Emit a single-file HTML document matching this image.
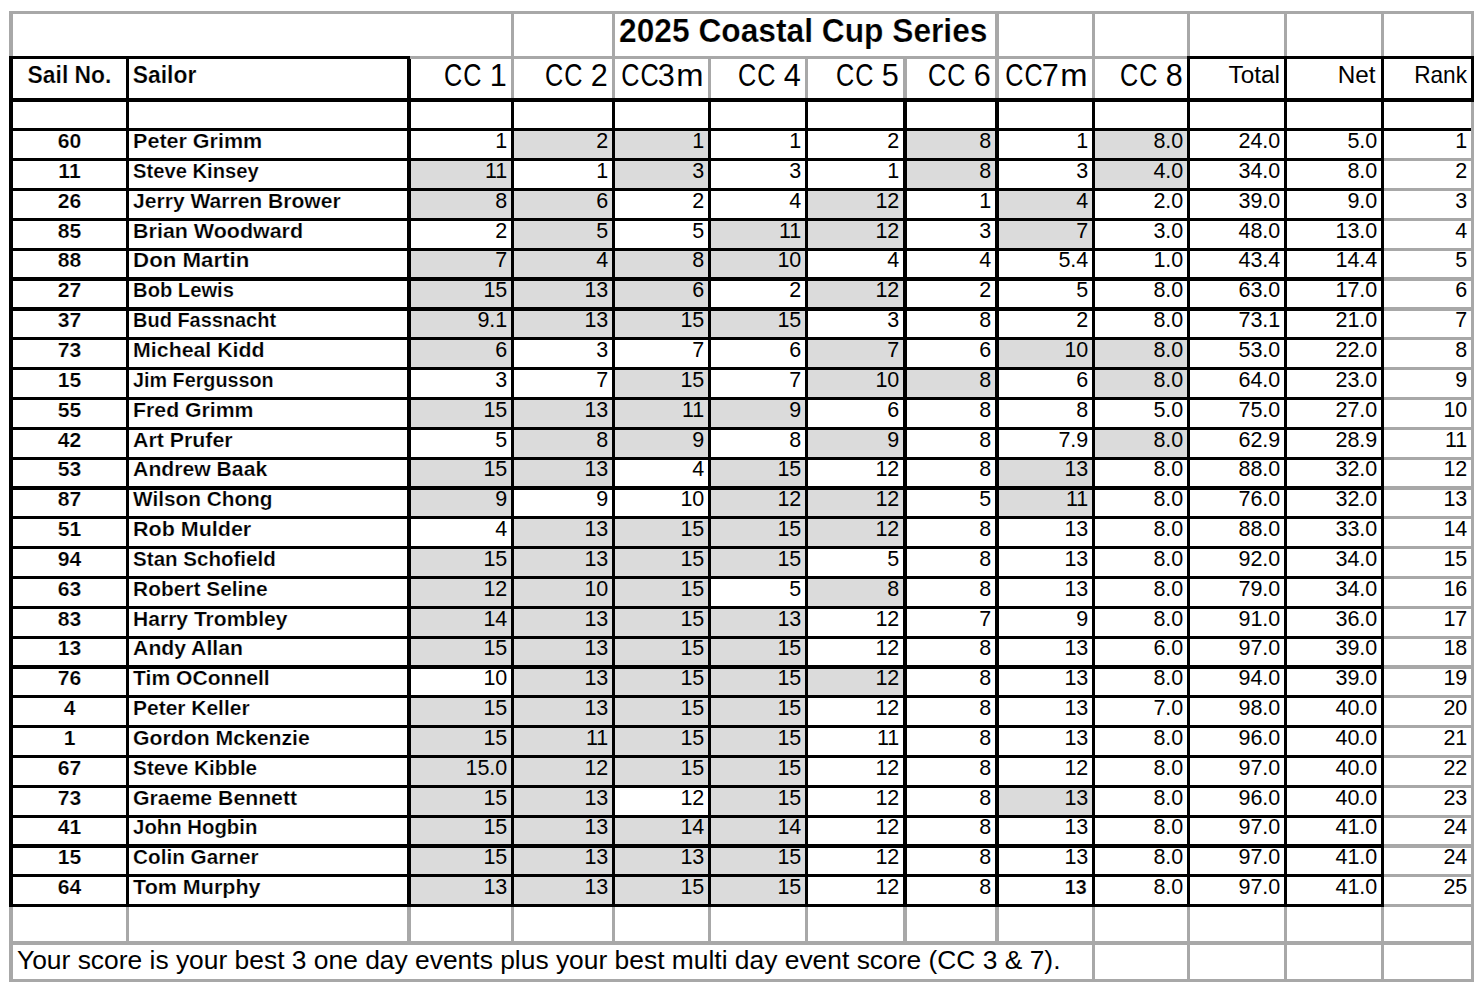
<!DOCTYPE html>
<html lang="en">
<head>
<meta charset="utf-8">
<title>2025 Coastal Cup Series</title>
<style>
html,body{margin:0;padding:0;background:#fff;}
body{width:1483px;height:993px;position:relative;overflow:hidden;}
svg{position:absolute;left:0;top:0;display:block;}
text{font-family:"Liberation Sans",sans-serif;font-weight:400;fill:#000;white-space:pre;}
text.b{font-weight:700;stroke:#fff;stroke-width:0.22px;}
</style>
</head>
<body>
<svg width="1483" height="993" viewBox="0 0 1483 993">
<g shape-rendering="crispEdges">
<rect x="511" y="128" width="104" height="33" fill="#dbdbdb"/>
<rect x="612" y="128" width="99" height="33" fill="#dbdbdb"/>
<rect x="903" y="128" width="96" height="33" fill="#dbdbdb"/>
<rect x="1092" y="128" width="98" height="33" fill="#dbdbdb"/>
<rect x="407" y="158" width="107" height="33" fill="#dbdbdb"/>
<rect x="612" y="158" width="99" height="33" fill="#dbdbdb"/>
<rect x="903" y="158" width="96" height="33" fill="#dbdbdb"/>
<rect x="1092" y="158" width="98" height="33" fill="#dbdbdb"/>
<rect x="407" y="188" width="107" height="33" fill="#dbdbdb"/>
<rect x="511" y="188" width="104" height="33" fill="#dbdbdb"/>
<rect x="805" y="188" width="102" height="33" fill="#dbdbdb"/>
<rect x="995" y="188" width="100" height="33" fill="#dbdbdb"/>
<rect x="511" y="218" width="104" height="33" fill="#dbdbdb"/>
<rect x="708" y="218" width="100" height="33" fill="#dbdbdb"/>
<rect x="805" y="218" width="102" height="33" fill="#dbdbdb"/>
<rect x="995" y="218" width="100" height="33" fill="#dbdbdb"/>
<rect x="407" y="248" width="107" height="33" fill="#dbdbdb"/>
<rect x="511" y="248" width="104" height="33" fill="#dbdbdb"/>
<rect x="612" y="248" width="99" height="33" fill="#dbdbdb"/>
<rect x="708" y="248" width="100" height="33" fill="#dbdbdb"/>
<rect x="407" y="277" width="107" height="34" fill="#dbdbdb"/>
<rect x="511" y="277" width="104" height="34" fill="#dbdbdb"/>
<rect x="612" y="277" width="99" height="34" fill="#dbdbdb"/>
<rect x="805" y="277" width="102" height="34" fill="#dbdbdb"/>
<rect x="407" y="307" width="107" height="33" fill="#dbdbdb"/>
<rect x="511" y="307" width="104" height="33" fill="#dbdbdb"/>
<rect x="612" y="307" width="99" height="33" fill="#dbdbdb"/>
<rect x="708" y="307" width="100" height="33" fill="#dbdbdb"/>
<rect x="407" y="337" width="107" height="33" fill="#dbdbdb"/>
<rect x="805" y="337" width="102" height="33" fill="#dbdbdb"/>
<rect x="995" y="337" width="100" height="33" fill="#dbdbdb"/>
<rect x="1092" y="337" width="98" height="33" fill="#dbdbdb"/>
<rect x="612" y="367" width="99" height="33" fill="#dbdbdb"/>
<rect x="805" y="367" width="102" height="33" fill="#dbdbdb"/>
<rect x="903" y="367" width="96" height="33" fill="#dbdbdb"/>
<rect x="1092" y="367" width="98" height="33" fill="#dbdbdb"/>
<rect x="407" y="397" width="107" height="33" fill="#dbdbdb"/>
<rect x="511" y="397" width="104" height="33" fill="#dbdbdb"/>
<rect x="612" y="397" width="99" height="33" fill="#dbdbdb"/>
<rect x="708" y="397" width="100" height="33" fill="#dbdbdb"/>
<rect x="511" y="427" width="104" height="33" fill="#dbdbdb"/>
<rect x="612" y="427" width="99" height="33" fill="#dbdbdb"/>
<rect x="805" y="427" width="102" height="33" fill="#dbdbdb"/>
<rect x="1092" y="427" width="98" height="33" fill="#dbdbdb"/>
<rect x="407" y="457" width="107" height="33" fill="#dbdbdb"/>
<rect x="511" y="457" width="104" height="33" fill="#dbdbdb"/>
<rect x="708" y="457" width="100" height="33" fill="#dbdbdb"/>
<rect x="995" y="457" width="100" height="33" fill="#dbdbdb"/>
<rect x="407" y="486" width="107" height="33" fill="#dbdbdb"/>
<rect x="708" y="486" width="100" height="33" fill="#dbdbdb"/>
<rect x="805" y="486" width="102" height="33" fill="#dbdbdb"/>
<rect x="995" y="486" width="100" height="33" fill="#dbdbdb"/>
<rect x="511" y="516" width="104" height="33" fill="#dbdbdb"/>
<rect x="612" y="516" width="99" height="33" fill="#dbdbdb"/>
<rect x="708" y="516" width="100" height="33" fill="#dbdbdb"/>
<rect x="805" y="516" width="102" height="33" fill="#dbdbdb"/>
<rect x="407" y="546" width="107" height="33" fill="#dbdbdb"/>
<rect x="511" y="546" width="104" height="33" fill="#dbdbdb"/>
<rect x="612" y="546" width="99" height="33" fill="#dbdbdb"/>
<rect x="708" y="546" width="100" height="33" fill="#dbdbdb"/>
<rect x="407" y="576" width="107" height="33" fill="#dbdbdb"/>
<rect x="511" y="576" width="104" height="33" fill="#dbdbdb"/>
<rect x="612" y="576" width="99" height="33" fill="#dbdbdb"/>
<rect x="805" y="576" width="102" height="33" fill="#dbdbdb"/>
<rect x="407" y="606" width="107" height="33" fill="#dbdbdb"/>
<rect x="511" y="606" width="104" height="33" fill="#dbdbdb"/>
<rect x="612" y="606" width="99" height="33" fill="#dbdbdb"/>
<rect x="708" y="606" width="100" height="33" fill="#dbdbdb"/>
<rect x="407" y="636" width="107" height="33" fill="#dbdbdb"/>
<rect x="511" y="636" width="104" height="33" fill="#dbdbdb"/>
<rect x="612" y="636" width="99" height="33" fill="#dbdbdb"/>
<rect x="708" y="636" width="100" height="33" fill="#dbdbdb"/>
<rect x="511" y="665" width="104" height="33" fill="#dbdbdb"/>
<rect x="612" y="665" width="99" height="33" fill="#dbdbdb"/>
<rect x="708" y="665" width="100" height="33" fill="#dbdbdb"/>
<rect x="805" y="665" width="102" height="33" fill="#dbdbdb"/>
<rect x="407" y="695" width="107" height="33" fill="#dbdbdb"/>
<rect x="511" y="695" width="104" height="33" fill="#dbdbdb"/>
<rect x="612" y="695" width="99" height="33" fill="#dbdbdb"/>
<rect x="708" y="695" width="100" height="33" fill="#dbdbdb"/>
<rect x="407" y="725" width="107" height="33" fill="#dbdbdb"/>
<rect x="511" y="725" width="104" height="33" fill="#dbdbdb"/>
<rect x="612" y="725" width="99" height="33" fill="#dbdbdb"/>
<rect x="708" y="725" width="100" height="33" fill="#dbdbdb"/>
<rect x="407" y="755" width="107" height="33" fill="#dbdbdb"/>
<rect x="511" y="755" width="104" height="33" fill="#dbdbdb"/>
<rect x="612" y="755" width="99" height="33" fill="#dbdbdb"/>
<rect x="708" y="755" width="100" height="33" fill="#dbdbdb"/>
<rect x="407" y="785" width="107" height="33" fill="#dbdbdb"/>
<rect x="511" y="785" width="104" height="33" fill="#dbdbdb"/>
<rect x="708" y="785" width="100" height="33" fill="#dbdbdb"/>
<rect x="995" y="785" width="100" height="33" fill="#dbdbdb"/>
<rect x="407" y="815" width="107" height="33" fill="#dbdbdb"/>
<rect x="511" y="815" width="104" height="33" fill="#dbdbdb"/>
<rect x="612" y="815" width="99" height="33" fill="#dbdbdb"/>
<rect x="708" y="815" width="100" height="33" fill="#dbdbdb"/>
<rect x="407" y="844" width="107" height="33" fill="#dbdbdb"/>
<rect x="511" y="844" width="104" height="33" fill="#dbdbdb"/>
<rect x="612" y="844" width="99" height="33" fill="#dbdbdb"/>
<rect x="708" y="844" width="100" height="33" fill="#dbdbdb"/>
<rect x="407" y="874" width="107" height="33" fill="#dbdbdb"/>
<rect x="511" y="874" width="104" height="33" fill="#dbdbdb"/>
<rect x="612" y="874" width="99" height="33" fill="#dbdbdb"/>
<rect x="708" y="874" width="100" height="33" fill="#dbdbdb"/>
<rect x="9" y="11" width="1465" height="3" fill="#a8a8a8"/>
<rect x="9" y="979" width="1465" height="3" fill="#a8a8a8"/>
<rect x="9" y="11" width="4" height="971" fill="#a8a8a8"/>
<rect x="1471" y="11" width="3" height="971" fill="#a8a8a8"/>
<rect x="511" y="11" width="3" height="48" fill="#a8a8a8"/>
<rect x="612" y="11" width="3" height="48" fill="#a8a8a8"/>
<rect x="995" y="11" width="4" height="48" fill="#a8a8a8"/>
<rect x="1092" y="11" width="3" height="48" fill="#a8a8a8"/>
<rect x="1187" y="11" width="3" height="48" fill="#a8a8a8"/>
<rect x="1284" y="11" width="3" height="48" fill="#a8a8a8"/>
<rect x="1381" y="11" width="3" height="48" fill="#a8a8a8"/>
<rect x="9" y="56" width="1465" height="3" fill="#a8a8a8"/>
<rect x="511" y="56" width="3" height="42" fill="#a8a8a8"/>
<rect x="612" y="56" width="3" height="42" fill="#a8a8a8"/>
<rect x="708" y="56" width="3" height="42" fill="#a8a8a8"/>
<rect x="805" y="56" width="3" height="42" fill="#a8a8a8"/>
<rect x="903" y="56" width="4" height="42" fill="#a8a8a8"/>
<rect x="995" y="56" width="4" height="42" fill="#a8a8a8"/>
<rect x="1092" y="56" width="3" height="42" fill="#a8a8a8"/>
<rect x="1381" y="158" width="93" height="3" fill="#a8a8a8"/>
<rect x="1381" y="188" width="93" height="3" fill="#a8a8a8"/>
<rect x="1381" y="218" width="93" height="3" fill="#a8a8a8"/>
<rect x="1381" y="248" width="93" height="3" fill="#a8a8a8"/>
<rect x="1381" y="277" width="93" height="4" fill="#a8a8a8"/>
<rect x="1381" y="307" width="93" height="4" fill="#a8a8a8"/>
<rect x="1381" y="337" width="93" height="3" fill="#a8a8a8"/>
<rect x="1381" y="367" width="93" height="3" fill="#a8a8a8"/>
<rect x="1381" y="397" width="93" height="3" fill="#a8a8a8"/>
<rect x="1381" y="427" width="93" height="3" fill="#a8a8a8"/>
<rect x="1381" y="457" width="93" height="3" fill="#a8a8a8"/>
<rect x="1381" y="486" width="93" height="4" fill="#a8a8a8"/>
<rect x="1381" y="516" width="93" height="3" fill="#a8a8a8"/>
<rect x="1381" y="546" width="93" height="3" fill="#a8a8a8"/>
<rect x="1381" y="576" width="93" height="3" fill="#a8a8a8"/>
<rect x="1381" y="606" width="93" height="3" fill="#a8a8a8"/>
<rect x="1381" y="636" width="93" height="3" fill="#a8a8a8"/>
<rect x="1381" y="665" width="93" height="4" fill="#a8a8a8"/>
<rect x="1381" y="695" width="93" height="3" fill="#a8a8a8"/>
<rect x="1381" y="725" width="93" height="3" fill="#a8a8a8"/>
<rect x="1381" y="755" width="93" height="3" fill="#a8a8a8"/>
<rect x="1381" y="785" width="93" height="3" fill="#a8a8a8"/>
<rect x="1381" y="815" width="93" height="3" fill="#a8a8a8"/>
<rect x="1381" y="844" width="93" height="4" fill="#a8a8a8"/>
<rect x="1381" y="874" width="93" height="3" fill="#a8a8a8"/>
<rect x="1381" y="904" width="93" height="3" fill="#a8a8a8"/>
<rect x="9" y="941" width="1465" height="4" fill="#a8a8a8"/>
<rect x="126" y="904" width="3" height="41" fill="#a8a8a8"/>
<rect x="407" y="904" width="4" height="41" fill="#a8a8a8"/>
<rect x="511" y="904" width="3" height="41" fill="#a8a8a8"/>
<rect x="612" y="904" width="3" height="41" fill="#a8a8a8"/>
<rect x="708" y="904" width="3" height="41" fill="#a8a8a8"/>
<rect x="805" y="904" width="3" height="41" fill="#a8a8a8"/>
<rect x="903" y="904" width="4" height="41" fill="#a8a8a8"/>
<rect x="995" y="904" width="4" height="41" fill="#a8a8a8"/>
<rect x="1092" y="904" width="3" height="41" fill="#a8a8a8"/>
<rect x="1187" y="904" width="3" height="41" fill="#a8a8a8"/>
<rect x="1284" y="904" width="3" height="41" fill="#a8a8a8"/>
<rect x="1381" y="904" width="3" height="41" fill="#a8a8a8"/>
<rect x="1092" y="941" width="3" height="41" fill="#a8a8a8"/>
<rect x="1187" y="941" width="3" height="41" fill="#a8a8a8"/>
<rect x="1284" y="941" width="3" height="41" fill="#a8a8a8"/>
<rect x="1381" y="941" width="3" height="41" fill="#a8a8a8"/>
<rect x="9" y="56" width="401" height="3" fill="#000"/>
<rect x="1187" y="56" width="287" height="3" fill="#000"/>
<rect x="9" y="98" width="1465" height="4" fill="#000"/>
<rect x="9" y="128" width="1462" height="3" fill="#000"/>
<rect x="9" y="158" width="1375" height="3" fill="#000"/>
<rect x="9" y="188" width="1375" height="3" fill="#000"/>
<rect x="9" y="218" width="1375" height="3" fill="#000"/>
<rect x="9" y="248" width="1375" height="3" fill="#000"/>
<rect x="9" y="277" width="1375" height="4" fill="#000"/>
<rect x="9" y="307" width="1375" height="4" fill="#000"/>
<rect x="9" y="337" width="1375" height="3" fill="#000"/>
<rect x="9" y="367" width="1375" height="3" fill="#000"/>
<rect x="9" y="397" width="1375" height="3" fill="#000"/>
<rect x="9" y="427" width="1375" height="3" fill="#000"/>
<rect x="9" y="457" width="1375" height="3" fill="#000"/>
<rect x="9" y="486" width="1375" height="4" fill="#000"/>
<rect x="9" y="516" width="1375" height="3" fill="#000"/>
<rect x="9" y="546" width="1375" height="3" fill="#000"/>
<rect x="9" y="576" width="1375" height="3" fill="#000"/>
<rect x="9" y="606" width="1375" height="3" fill="#000"/>
<rect x="9" y="636" width="1375" height="3" fill="#000"/>
<rect x="9" y="665" width="1375" height="4" fill="#000"/>
<rect x="9" y="695" width="1375" height="3" fill="#000"/>
<rect x="9" y="725" width="1375" height="3" fill="#000"/>
<rect x="9" y="755" width="1375" height="3" fill="#000"/>
<rect x="9" y="785" width="1375" height="3" fill="#000"/>
<rect x="9" y="815" width="1375" height="3" fill="#000"/>
<rect x="9" y="844" width="1375" height="4" fill="#000"/>
<rect x="9" y="874" width="1375" height="3" fill="#000"/>
<rect x="9" y="904" width="1375" height="3" fill="#000"/>
<rect x="9" y="56" width="4" height="851" fill="#000"/>
<rect x="126" y="56" width="3" height="851" fill="#000"/>
<rect x="407" y="59" width="4" height="848" fill="#000"/>
<rect x="407" y="56" width="3" height="3" fill="#000"/>
<rect x="511" y="98" width="3" height="809" fill="#000"/>
<rect x="612" y="98" width="3" height="809" fill="#000"/>
<rect x="708" y="98" width="3" height="809" fill="#000"/>
<rect x="805" y="98" width="3" height="809" fill="#000"/>
<rect x="903" y="98" width="4" height="809" fill="#000"/>
<rect x="995" y="98" width="4" height="809" fill="#000"/>
<rect x="1092" y="98" width="3" height="809" fill="#000"/>
<rect x="1187" y="56" width="3" height="851" fill="#000"/>
<rect x="1284" y="56" width="3" height="851" fill="#000"/>
<rect x="1381" y="56" width="3" height="851" fill="#000"/>
<rect x="1471" y="56" width="3" height="46" fill="#000"/>
</g>
<g>
<text class="b" transform="translate(803.25 41.60) scale(0.982 1)" font-size="32.3" text-anchor="middle">2025 Coastal Cup Series</text>
<text class="b" transform="translate(69.50 82.75) scale(0.994 1)" font-size="23.0" text-anchor="middle">Sail No.</text>
<text class="b" transform="translate(132.80 82.75) scale(0.994 1)" font-size="23.0" text-anchor="start">Sailor</text>
<text transform="translate(482.50 85.70) scale(0.825 1)" font-size="30.6" text-anchor="end" style="letter-spacing:1.18px;">CC</text>
<text transform="translate(506.65 85.70) scale(1.0 1)" font-size="30.6" text-anchor="end">1</text>
<text transform="translate(583.50 85.70) scale(0.825 1)" font-size="30.6" text-anchor="end" style="letter-spacing:1.18px;">CC</text>
<text transform="translate(607.65 85.70) scale(1.0 1)" font-size="30.6" text-anchor="end">2</text>
<text transform="translate(659.60 85.70) scale(0.825 1)" font-size="30.6" text-anchor="end" style="letter-spacing:1.18px;">CC</text>
<text transform="translate(674.80 85.70) scale(1.0 1)" font-size="30.6" text-anchor="end">3</text>
<text transform="translate(703.60 85.70) scale(1.07 1)" font-size="30.6" text-anchor="end">m</text>
<text transform="translate(776.50 85.70) scale(0.825 1)" font-size="30.6" text-anchor="end" style="letter-spacing:1.18px;">CC</text>
<text transform="translate(800.65 85.70) scale(1.0 1)" font-size="30.6" text-anchor="end">4</text>
<text transform="translate(874.50 85.70) scale(0.825 1)" font-size="30.6" text-anchor="end" style="letter-spacing:1.18px;">CC</text>
<text transform="translate(898.65 85.70) scale(1.0 1)" font-size="30.6" text-anchor="end">5</text>
<text transform="translate(966.50 85.70) scale(0.825 1)" font-size="30.6" text-anchor="end" style="letter-spacing:1.18px;">CC</text>
<text transform="translate(990.65 85.70) scale(1.0 1)" font-size="30.6" text-anchor="end">6</text>
<text transform="translate(1043.60 85.70) scale(0.825 1)" font-size="30.6" text-anchor="end" style="letter-spacing:1.18px;">CC</text>
<text transform="translate(1058.80 85.70) scale(1.0 1)" font-size="30.6" text-anchor="end">7</text>
<text transform="translate(1087.60 85.70) scale(1.07 1)" font-size="30.6" text-anchor="end">m</text>
<text transform="translate(1158.50 85.70) scale(0.825 1)" font-size="30.6" text-anchor="end" style="letter-spacing:1.18px;">CC</text>
<text transform="translate(1182.65 85.70) scale(1.0 1)" font-size="30.6" text-anchor="end">8</text>
<text transform="translate(1280.00 82.50) scale(1.06 1)" font-size="23.0" text-anchor="end">Total</text>
<text transform="translate(1375.60 82.50) scale(1.056 1)" font-size="23.0" text-anchor="end">Net</text>
<text transform="translate(1467.00 82.50) scale(0.985 1)" font-size="23.0" text-anchor="end">Rank</text>
<text class="b" transform="translate(69.50 147.60) scale(1.005 1)" font-size="21.0" text-anchor="middle">60</text>
<text class="b" transform="translate(133.10 147.60) scale(1.0244 1)" font-size="21.0" text-anchor="start">Peter Grimm</text>
<text transform="translate(507.30 147.60) scale(0.987 1)" font-size="21.8" text-anchor="end">1</text>
<text transform="translate(608.30 147.60) scale(0.987 1)" font-size="21.8" text-anchor="end">2</text>
<text transform="translate(704.30 147.60) scale(0.987 1)" font-size="21.8" text-anchor="end">1</text>
<text transform="translate(801.30 147.60) scale(0.987 1)" font-size="21.8" text-anchor="end">1</text>
<text transform="translate(899.30 147.60) scale(0.987 1)" font-size="21.8" text-anchor="end">2</text>
<text transform="translate(991.30 147.60) scale(0.987 1)" font-size="21.8" text-anchor="end">8</text>
<text transform="translate(1088.30 147.60) scale(0.987 1)" font-size="21.8" text-anchor="end">1</text>
<text transform="translate(1183.30 147.60) scale(0.987 1)" font-size="21.8" text-anchor="end">8.0</text>
<text transform="translate(1280.30 147.60) scale(0.987 1)" font-size="21.8" text-anchor="end">24.0</text>
<text transform="translate(1377.30 147.60) scale(0.987 1)" font-size="21.8" text-anchor="end">5.0</text>
<text transform="translate(1467.30 147.60) scale(0.987 1)" font-size="21.8" text-anchor="end">1</text>
<text class="b" transform="translate(69.50 177.60) scale(1.005 1)" font-size="21.0" text-anchor="middle">11</text>
<text class="b" transform="translate(133.10 177.60) scale(0.9611 1)" font-size="21.0" text-anchor="start">Steve Kinsey</text>
<text transform="translate(507.30 177.60) scale(0.987 1)" font-size="21.8" text-anchor="end">11</text>
<text transform="translate(608.30 177.60) scale(0.987 1)" font-size="21.8" text-anchor="end">1</text>
<text transform="translate(704.30 177.60) scale(0.987 1)" font-size="21.8" text-anchor="end">3</text>
<text transform="translate(801.30 177.60) scale(0.987 1)" font-size="21.8" text-anchor="end">3</text>
<text transform="translate(899.30 177.60) scale(0.987 1)" font-size="21.8" text-anchor="end">1</text>
<text transform="translate(991.30 177.60) scale(0.987 1)" font-size="21.8" text-anchor="end">8</text>
<text transform="translate(1088.30 177.60) scale(0.987 1)" font-size="21.8" text-anchor="end">3</text>
<text transform="translate(1183.30 177.60) scale(0.987 1)" font-size="21.8" text-anchor="end">4.0</text>
<text transform="translate(1280.30 177.60) scale(0.987 1)" font-size="21.8" text-anchor="end">34.0</text>
<text transform="translate(1377.30 177.60) scale(0.987 1)" font-size="21.8" text-anchor="end">8.0</text>
<text transform="translate(1467.30 177.60) scale(0.987 1)" font-size="21.8" text-anchor="end">2</text>
<text class="b" transform="translate(69.50 207.60) scale(1.005 1)" font-size="21.0" text-anchor="middle">26</text>
<text class="b" transform="translate(133.10 207.60) scale(1.0035 1)" font-size="21.0" text-anchor="start">Jerry Warren Brower</text>
<text transform="translate(507.30 207.60) scale(0.987 1)" font-size="21.8" text-anchor="end">8</text>
<text transform="translate(608.30 207.60) scale(0.987 1)" font-size="21.8" text-anchor="end">6</text>
<text transform="translate(704.30 207.60) scale(0.987 1)" font-size="21.8" text-anchor="end">2</text>
<text transform="translate(801.30 207.60) scale(0.987 1)" font-size="21.8" text-anchor="end">4</text>
<text transform="translate(899.30 207.60) scale(0.987 1)" font-size="21.8" text-anchor="end">12</text>
<text transform="translate(991.30 207.60) scale(0.987 1)" font-size="21.8" text-anchor="end">1</text>
<text transform="translate(1088.30 207.60) scale(0.987 1)" font-size="21.8" text-anchor="end">4</text>
<text transform="translate(1183.30 207.60) scale(0.987 1)" font-size="21.8" text-anchor="end">2.0</text>
<text transform="translate(1280.30 207.60) scale(0.987 1)" font-size="21.8" text-anchor="end">39.0</text>
<text transform="translate(1377.30 207.60) scale(0.987 1)" font-size="21.8" text-anchor="end">9.0</text>
<text transform="translate(1467.30 207.60) scale(0.987 1)" font-size="21.8" text-anchor="end">3</text>
<text class="b" transform="translate(69.50 237.60) scale(1.005 1)" font-size="21.0" text-anchor="middle">85</text>
<text class="b" transform="translate(133.10 237.60) scale(1.0214 1)" font-size="21.0" text-anchor="start">Brian Woodward</text>
<text transform="translate(507.30 237.60) scale(0.987 1)" font-size="21.8" text-anchor="end">2</text>
<text transform="translate(608.30 237.60) scale(0.987 1)" font-size="21.8" text-anchor="end">5</text>
<text transform="translate(704.30 237.60) scale(0.987 1)" font-size="21.8" text-anchor="end">5</text>
<text transform="translate(801.30 237.60) scale(0.987 1)" font-size="21.8" text-anchor="end">11</text>
<text transform="translate(899.30 237.60) scale(0.987 1)" font-size="21.8" text-anchor="end">12</text>
<text transform="translate(991.30 237.60) scale(0.987 1)" font-size="21.8" text-anchor="end">3</text>
<text transform="translate(1088.30 237.60) scale(0.987 1)" font-size="21.8" text-anchor="end">7</text>
<text transform="translate(1183.30 237.60) scale(0.987 1)" font-size="21.8" text-anchor="end">3.0</text>
<text transform="translate(1280.30 237.60) scale(0.987 1)" font-size="21.8" text-anchor="end">48.0</text>
<text transform="translate(1377.30 237.60) scale(0.987 1)" font-size="21.8" text-anchor="end">13.0</text>
<text transform="translate(1467.30 237.60) scale(0.987 1)" font-size="21.8" text-anchor="end">4</text>
<text class="b" transform="translate(69.50 266.60) scale(1.005 1)" font-size="21.0" text-anchor="middle">88</text>
<text class="b" transform="translate(133.10 266.60) scale(1.0605 1)" font-size="21.0" text-anchor="start">Don Martin</text>
<text transform="translate(507.30 266.60) scale(0.987 1)" font-size="21.8" text-anchor="end">7</text>
<text transform="translate(608.30 266.60) scale(0.987 1)" font-size="21.8" text-anchor="end">4</text>
<text transform="translate(704.30 266.60) scale(0.987 1)" font-size="21.8" text-anchor="end">8</text>
<text transform="translate(801.30 266.60) scale(0.987 1)" font-size="21.8" text-anchor="end">10</text>
<text transform="translate(899.30 266.60) scale(0.987 1)" font-size="21.8" text-anchor="end">4</text>
<text transform="translate(991.30 266.60) scale(0.987 1)" font-size="21.8" text-anchor="end">4</text>
<text transform="translate(1088.30 266.60) scale(0.987 1)" font-size="21.8" text-anchor="end">5.4</text>
<text transform="translate(1183.30 266.60) scale(0.987 1)" font-size="21.8" text-anchor="end">1.0</text>
<text transform="translate(1280.30 266.60) scale(0.987 1)" font-size="21.8" text-anchor="end">43.4</text>
<text transform="translate(1377.30 266.60) scale(0.987 1)" font-size="21.8" text-anchor="end">14.4</text>
<text transform="translate(1467.30 266.60) scale(0.987 1)" font-size="21.8" text-anchor="end">5</text>
<text class="b" transform="translate(69.50 296.60) scale(1.005 1)" font-size="21.0" text-anchor="middle">27</text>
<text class="b" transform="translate(133.10 296.60) scale(0.9598 1)" font-size="21.0" text-anchor="start">Bob Lewis</text>
<text transform="translate(507.30 296.60) scale(0.987 1)" font-size="21.8" text-anchor="end">15</text>
<text transform="translate(608.30 296.60) scale(0.987 1)" font-size="21.8" text-anchor="end">13</text>
<text transform="translate(704.30 296.60) scale(0.987 1)" font-size="21.8" text-anchor="end">6</text>
<text transform="translate(801.30 296.60) scale(0.987 1)" font-size="21.8" text-anchor="end">2</text>
<text transform="translate(899.30 296.60) scale(0.987 1)" font-size="21.8" text-anchor="end">12</text>
<text transform="translate(991.30 296.60) scale(0.987 1)" font-size="21.8" text-anchor="end">2</text>
<text transform="translate(1088.30 296.60) scale(0.987 1)" font-size="21.8" text-anchor="end">5</text>
<text transform="translate(1183.30 296.60) scale(0.987 1)" font-size="21.8" text-anchor="end">8.0</text>
<text transform="translate(1280.30 296.60) scale(0.987 1)" font-size="21.8" text-anchor="end">63.0</text>
<text transform="translate(1377.30 296.60) scale(0.987 1)" font-size="21.8" text-anchor="end">17.0</text>
<text transform="translate(1467.30 296.60) scale(0.987 1)" font-size="21.8" text-anchor="end">6</text>
<text class="b" transform="translate(69.50 326.60) scale(1.005 1)" font-size="21.0" text-anchor="middle">37</text>
<text class="b" transform="translate(133.10 326.60) scale(0.9503 1)" font-size="21.0" text-anchor="start">Bud Fassnacht</text>
<text transform="translate(507.30 326.60) scale(0.987 1)" font-size="21.8" text-anchor="end">9.1</text>
<text transform="translate(608.30 326.60) scale(0.987 1)" font-size="21.8" text-anchor="end">13</text>
<text transform="translate(704.30 326.60) scale(0.987 1)" font-size="21.8" text-anchor="end">15</text>
<text transform="translate(801.30 326.60) scale(0.987 1)" font-size="21.8" text-anchor="end">15</text>
<text transform="translate(899.30 326.60) scale(0.987 1)" font-size="21.8" text-anchor="end">3</text>
<text transform="translate(991.30 326.60) scale(0.987 1)" font-size="21.8" text-anchor="end">8</text>
<text transform="translate(1088.30 326.60) scale(0.987 1)" font-size="21.8" text-anchor="end">2</text>
<text transform="translate(1183.30 326.60) scale(0.987 1)" font-size="21.8" text-anchor="end">8.0</text>
<text transform="translate(1280.30 326.60) scale(0.987 1)" font-size="21.8" text-anchor="end">73.1</text>
<text transform="translate(1377.30 326.60) scale(0.987 1)" font-size="21.8" text-anchor="end">21.0</text>
<text transform="translate(1467.30 326.60) scale(0.987 1)" font-size="21.8" text-anchor="end">7</text>
<text class="b" transform="translate(69.50 356.60) scale(1.005 1)" font-size="21.0" text-anchor="middle">73</text>
<text class="b" transform="translate(133.10 356.60) scale(1.0152 1)" font-size="21.0" text-anchor="start">Micheal Kidd</text>
<text transform="translate(507.30 356.60) scale(0.987 1)" font-size="21.8" text-anchor="end">6</text>
<text transform="translate(608.30 356.60) scale(0.987 1)" font-size="21.8" text-anchor="end">3</text>
<text transform="translate(704.30 356.60) scale(0.987 1)" font-size="21.8" text-anchor="end">7</text>
<text transform="translate(801.30 356.60) scale(0.987 1)" font-size="21.8" text-anchor="end">6</text>
<text transform="translate(899.30 356.60) scale(0.987 1)" font-size="21.8" text-anchor="end">7</text>
<text transform="translate(991.30 356.60) scale(0.987 1)" font-size="21.8" text-anchor="end">6</text>
<text transform="translate(1088.30 356.60) scale(0.987 1)" font-size="21.8" text-anchor="end">10</text>
<text transform="translate(1183.30 356.60) scale(0.987 1)" font-size="21.8" text-anchor="end">8.0</text>
<text transform="translate(1280.30 356.60) scale(0.987 1)" font-size="21.8" text-anchor="end">53.0</text>
<text transform="translate(1377.30 356.60) scale(0.987 1)" font-size="21.8" text-anchor="end">22.0</text>
<text transform="translate(1467.30 356.60) scale(0.987 1)" font-size="21.8" text-anchor="end">8</text>
<text class="b" transform="translate(69.50 386.60) scale(1.005 1)" font-size="21.0" text-anchor="middle">15</text>
<text class="b" transform="translate(133.10 386.60) scale(0.9414 1)" font-size="21.0" text-anchor="start">Jim Fergusson</text>
<text transform="translate(507.30 386.60) scale(0.987 1)" font-size="21.8" text-anchor="end">3</text>
<text transform="translate(608.30 386.60) scale(0.987 1)" font-size="21.8" text-anchor="end">7</text>
<text transform="translate(704.30 386.60) scale(0.987 1)" font-size="21.8" text-anchor="end">15</text>
<text transform="translate(801.30 386.60) scale(0.987 1)" font-size="21.8" text-anchor="end">7</text>
<text transform="translate(899.30 386.60) scale(0.987 1)" font-size="21.8" text-anchor="end">10</text>
<text transform="translate(991.30 386.60) scale(0.987 1)" font-size="21.8" text-anchor="end">8</text>
<text transform="translate(1088.30 386.60) scale(0.987 1)" font-size="21.8" text-anchor="end">6</text>
<text transform="translate(1183.30 386.60) scale(0.987 1)" font-size="21.8" text-anchor="end">8.0</text>
<text transform="translate(1280.30 386.60) scale(0.987 1)" font-size="21.8" text-anchor="end">64.0</text>
<text transform="translate(1377.30 386.60) scale(0.987 1)" font-size="21.8" text-anchor="end">23.0</text>
<text transform="translate(1467.30 386.60) scale(0.987 1)" font-size="21.8" text-anchor="end">9</text>
<text class="b" transform="translate(69.50 416.60) scale(1.005 1)" font-size="21.0" text-anchor="middle">55</text>
<text class="b" transform="translate(133.10 416.60) scale(1.011 1)" font-size="21.0" text-anchor="start">Fred Grimm</text>
<text transform="translate(507.30 416.60) scale(0.987 1)" font-size="21.8" text-anchor="end">15</text>
<text transform="translate(608.30 416.60) scale(0.987 1)" font-size="21.8" text-anchor="end">13</text>
<text transform="translate(704.30 416.60) scale(0.987 1)" font-size="21.8" text-anchor="end">11</text>
<text transform="translate(801.30 416.60) scale(0.987 1)" font-size="21.8" text-anchor="end">9</text>
<text transform="translate(899.30 416.60) scale(0.987 1)" font-size="21.8" text-anchor="end">6</text>
<text transform="translate(991.30 416.60) scale(0.987 1)" font-size="21.8" text-anchor="end">8</text>
<text transform="translate(1088.30 416.60) scale(0.987 1)" font-size="21.8" text-anchor="end">8</text>
<text transform="translate(1183.30 416.60) scale(0.987 1)" font-size="21.8" text-anchor="end">5.0</text>
<text transform="translate(1280.30 416.60) scale(0.987 1)" font-size="21.8" text-anchor="end">75.0</text>
<text transform="translate(1377.30 416.60) scale(0.987 1)" font-size="21.8" text-anchor="end">27.0</text>
<text transform="translate(1467.30 416.60) scale(0.987 1)" font-size="21.8" text-anchor="end">10</text>
<text class="b" transform="translate(69.50 446.60) scale(1.005 1)" font-size="21.0" text-anchor="middle">42</text>
<text class="b" transform="translate(133.10 446.60) scale(1.0153 1)" font-size="21.0" text-anchor="start">Art Prufer</text>
<text transform="translate(507.30 446.60) scale(0.987 1)" font-size="21.8" text-anchor="end">5</text>
<text transform="translate(608.30 446.60) scale(0.987 1)" font-size="21.8" text-anchor="end">8</text>
<text transform="translate(704.30 446.60) scale(0.987 1)" font-size="21.8" text-anchor="end">9</text>
<text transform="translate(801.30 446.60) scale(0.987 1)" font-size="21.8" text-anchor="end">8</text>
<text transform="translate(899.30 446.60) scale(0.987 1)" font-size="21.8" text-anchor="end">9</text>
<text transform="translate(991.30 446.60) scale(0.987 1)" font-size="21.8" text-anchor="end">8</text>
<text transform="translate(1088.30 446.60) scale(0.987 1)" font-size="21.8" text-anchor="end">7.9</text>
<text transform="translate(1183.30 446.60) scale(0.987 1)" font-size="21.8" text-anchor="end">8.0</text>
<text transform="translate(1280.30 446.60) scale(0.987 1)" font-size="21.8" text-anchor="end">62.9</text>
<text transform="translate(1377.30 446.60) scale(0.987 1)" font-size="21.8" text-anchor="end">28.9</text>
<text transform="translate(1467.30 446.60) scale(0.987 1)" font-size="21.8" text-anchor="end">11</text>
<text class="b" transform="translate(69.50 475.60) scale(1.005 1)" font-size="21.0" text-anchor="middle">53</text>
<text class="b" transform="translate(133.10 475.60) scale(1.008 1)" font-size="21.0" text-anchor="start">Andrew Baak</text>
<text transform="translate(507.30 475.60) scale(0.987 1)" font-size="21.8" text-anchor="end">15</text>
<text transform="translate(608.30 475.60) scale(0.987 1)" font-size="21.8" text-anchor="end">13</text>
<text transform="translate(704.30 475.60) scale(0.987 1)" font-size="21.8" text-anchor="end">4</text>
<text transform="translate(801.30 475.60) scale(0.987 1)" font-size="21.8" text-anchor="end">15</text>
<text transform="translate(899.30 475.60) scale(0.987 1)" font-size="21.8" text-anchor="end">12</text>
<text transform="translate(991.30 475.60) scale(0.987 1)" font-size="21.8" text-anchor="end">8</text>
<text transform="translate(1088.30 475.60) scale(0.987 1)" font-size="21.8" text-anchor="end">13</text>
<text transform="translate(1183.30 475.60) scale(0.987 1)" font-size="21.8" text-anchor="end">8.0</text>
<text transform="translate(1280.30 475.60) scale(0.987 1)" font-size="21.8" text-anchor="end">88.0</text>
<text transform="translate(1377.30 475.60) scale(0.987 1)" font-size="21.8" text-anchor="end">32.0</text>
<text transform="translate(1467.30 475.60) scale(0.987 1)" font-size="21.8" text-anchor="end">12</text>
<text class="b" transform="translate(69.50 505.60) scale(1.005 1)" font-size="21.0" text-anchor="middle">87</text>
<text class="b" transform="translate(133.10 505.60) scale(0.9892 1)" font-size="21.0" text-anchor="start">Wilson Chong</text>
<text transform="translate(507.30 505.60) scale(0.987 1)" font-size="21.8" text-anchor="end">9</text>
<text transform="translate(608.30 505.60) scale(0.987 1)" font-size="21.8" text-anchor="end">9</text>
<text transform="translate(704.30 505.60) scale(0.987 1)" font-size="21.8" text-anchor="end">10</text>
<text transform="translate(801.30 505.60) scale(0.987 1)" font-size="21.8" text-anchor="end">12</text>
<text transform="translate(899.30 505.60) scale(0.987 1)" font-size="21.8" text-anchor="end">12</text>
<text transform="translate(991.30 505.60) scale(0.987 1)" font-size="21.8" text-anchor="end">5</text>
<text transform="translate(1088.30 505.60) scale(0.987 1)" font-size="21.8" text-anchor="end">11</text>
<text transform="translate(1183.30 505.60) scale(0.987 1)" font-size="21.8" text-anchor="end">8.0</text>
<text transform="translate(1280.30 505.60) scale(0.987 1)" font-size="21.8" text-anchor="end">76.0</text>
<text transform="translate(1377.30 505.60) scale(0.987 1)" font-size="21.8" text-anchor="end">32.0</text>
<text transform="translate(1467.30 505.60) scale(0.987 1)" font-size="21.8" text-anchor="end">13</text>
<text class="b" transform="translate(69.50 535.60) scale(1.005 1)" font-size="21.0" text-anchor="middle">51</text>
<text class="b" transform="translate(133.10 535.60) scale(1.0233 1)" font-size="21.0" text-anchor="start">Rob Mulder</text>
<text transform="translate(507.30 535.60) scale(0.987 1)" font-size="21.8" text-anchor="end">4</text>
<text transform="translate(608.30 535.60) scale(0.987 1)" font-size="21.8" text-anchor="end">13</text>
<text transform="translate(704.30 535.60) scale(0.987 1)" font-size="21.8" text-anchor="end">15</text>
<text transform="translate(801.30 535.60) scale(0.987 1)" font-size="21.8" text-anchor="end">15</text>
<text transform="translate(899.30 535.60) scale(0.987 1)" font-size="21.8" text-anchor="end">12</text>
<text transform="translate(991.30 535.60) scale(0.987 1)" font-size="21.8" text-anchor="end">8</text>
<text transform="translate(1088.30 535.60) scale(0.987 1)" font-size="21.8" text-anchor="end">13</text>
<text transform="translate(1183.30 535.60) scale(0.987 1)" font-size="21.8" text-anchor="end">8.0</text>
<text transform="translate(1280.30 535.60) scale(0.987 1)" font-size="21.8" text-anchor="end">88.0</text>
<text transform="translate(1377.30 535.60) scale(0.987 1)" font-size="21.8" text-anchor="end">33.0</text>
<text transform="translate(1467.30 535.60) scale(0.987 1)" font-size="21.8" text-anchor="end">14</text>
<text class="b" transform="translate(69.50 565.60) scale(1.005 1)" font-size="21.0" text-anchor="middle">94</text>
<text class="b" transform="translate(133.10 565.60) scale(0.9786 1)" font-size="21.0" text-anchor="start">Stan Schofield</text>
<text transform="translate(507.30 565.60) scale(0.987 1)" font-size="21.8" text-anchor="end">15</text>
<text transform="translate(608.30 565.60) scale(0.987 1)" font-size="21.8" text-anchor="end">13</text>
<text transform="translate(704.30 565.60) scale(0.987 1)" font-size="21.8" text-anchor="end">15</text>
<text transform="translate(801.30 565.60) scale(0.987 1)" font-size="21.8" text-anchor="end">15</text>
<text transform="translate(899.30 565.60) scale(0.987 1)" font-size="21.8" text-anchor="end">5</text>
<text transform="translate(991.30 565.60) scale(0.987 1)" font-size="21.8" text-anchor="end">8</text>
<text transform="translate(1088.30 565.60) scale(0.987 1)" font-size="21.8" text-anchor="end">13</text>
<text transform="translate(1183.30 565.60) scale(0.987 1)" font-size="21.8" text-anchor="end">8.0</text>
<text transform="translate(1280.30 565.60) scale(0.987 1)" font-size="21.8" text-anchor="end">92.0</text>
<text transform="translate(1377.30 565.60) scale(0.987 1)" font-size="21.8" text-anchor="end">34.0</text>
<text transform="translate(1467.30 565.60) scale(0.987 1)" font-size="21.8" text-anchor="end">15</text>
<text class="b" transform="translate(69.50 595.60) scale(1.005 1)" font-size="21.0" text-anchor="middle">63</text>
<text class="b" transform="translate(133.10 595.60) scale(0.9953 1)" font-size="21.0" text-anchor="start">Robert Seline</text>
<text transform="translate(507.30 595.60) scale(0.987 1)" font-size="21.8" text-anchor="end">12</text>
<text transform="translate(608.30 595.60) scale(0.987 1)" font-size="21.8" text-anchor="end">10</text>
<text transform="translate(704.30 595.60) scale(0.987 1)" font-size="21.8" text-anchor="end">15</text>
<text transform="translate(801.30 595.60) scale(0.987 1)" font-size="21.8" text-anchor="end">5</text>
<text transform="translate(899.30 595.60) scale(0.987 1)" font-size="21.8" text-anchor="end">8</text>
<text transform="translate(991.30 595.60) scale(0.987 1)" font-size="21.8" text-anchor="end">8</text>
<text transform="translate(1088.30 595.60) scale(0.987 1)" font-size="21.8" text-anchor="end">13</text>
<text transform="translate(1183.30 595.60) scale(0.987 1)" font-size="21.8" text-anchor="end">8.0</text>
<text transform="translate(1280.30 595.60) scale(0.987 1)" font-size="21.8" text-anchor="end">79.0</text>
<text transform="translate(1377.30 595.60) scale(0.987 1)" font-size="21.8" text-anchor="end">34.0</text>
<text transform="translate(1467.30 595.60) scale(0.987 1)" font-size="21.8" text-anchor="end">16</text>
<text class="b" transform="translate(69.50 625.60) scale(1.005 1)" font-size="21.0" text-anchor="middle">83</text>
<text class="b" transform="translate(133.10 625.60) scale(1.0024 1)" font-size="21.0" text-anchor="start">Harry Trombley</text>
<text transform="translate(507.30 625.60) scale(0.987 1)" font-size="21.8" text-anchor="end">14</text>
<text transform="translate(608.30 625.60) scale(0.987 1)" font-size="21.8" text-anchor="end">13</text>
<text transform="translate(704.30 625.60) scale(0.987 1)" font-size="21.8" text-anchor="end">15</text>
<text transform="translate(801.30 625.60) scale(0.987 1)" font-size="21.8" text-anchor="end">13</text>
<text transform="translate(899.30 625.60) scale(0.987 1)" font-size="21.8" text-anchor="end">12</text>
<text transform="translate(991.30 625.60) scale(0.987 1)" font-size="21.8" text-anchor="end">7</text>
<text transform="translate(1088.30 625.60) scale(0.987 1)" font-size="21.8" text-anchor="end">9</text>
<text transform="translate(1183.30 625.60) scale(0.987 1)" font-size="21.8" text-anchor="end">8.0</text>
<text transform="translate(1280.30 625.60) scale(0.987 1)" font-size="21.8" text-anchor="end">91.0</text>
<text transform="translate(1377.30 625.60) scale(0.987 1)" font-size="21.8" text-anchor="end">36.0</text>
<text transform="translate(1467.30 625.60) scale(0.987 1)" font-size="21.8" text-anchor="end">17</text>
<text class="b" transform="translate(69.50 654.60) scale(1.005 1)" font-size="21.0" text-anchor="middle">13</text>
<text class="b" transform="translate(133.10 654.60) scale(1.0087 1)" font-size="21.0" text-anchor="start">Andy Allan</text>
<text transform="translate(507.30 654.60) scale(0.987 1)" font-size="21.8" text-anchor="end">15</text>
<text transform="translate(608.30 654.60) scale(0.987 1)" font-size="21.8" text-anchor="end">13</text>
<text transform="translate(704.30 654.60) scale(0.987 1)" font-size="21.8" text-anchor="end">15</text>
<text transform="translate(801.30 654.60) scale(0.987 1)" font-size="21.8" text-anchor="end">15</text>
<text transform="translate(899.30 654.60) scale(0.987 1)" font-size="21.8" text-anchor="end">12</text>
<text transform="translate(991.30 654.60) scale(0.987 1)" font-size="21.8" text-anchor="end">8</text>
<text transform="translate(1088.30 654.60) scale(0.987 1)" font-size="21.8" text-anchor="end">13</text>
<text transform="translate(1183.30 654.60) scale(0.987 1)" font-size="21.8" text-anchor="end">6.0</text>
<text transform="translate(1280.30 654.60) scale(0.987 1)" font-size="21.8" text-anchor="end">97.0</text>
<text transform="translate(1377.30 654.60) scale(0.987 1)" font-size="21.8" text-anchor="end">39.0</text>
<text transform="translate(1467.30 654.60) scale(0.987 1)" font-size="21.8" text-anchor="end">18</text>
<text class="b" transform="translate(69.50 684.60) scale(1.005 1)" font-size="21.0" text-anchor="middle">76</text>
<text class="b" transform="translate(133.10 684.60) scale(1.0043 1)" font-size="21.0" text-anchor="start">Tim OConnell</text>
<text transform="translate(507.30 684.60) scale(0.987 1)" font-size="21.8" text-anchor="end">10</text>
<text transform="translate(608.30 684.60) scale(0.987 1)" font-size="21.8" text-anchor="end">13</text>
<text transform="translate(704.30 684.60) scale(0.987 1)" font-size="21.8" text-anchor="end">15</text>
<text transform="translate(801.30 684.60) scale(0.987 1)" font-size="21.8" text-anchor="end">15</text>
<text transform="translate(899.30 684.60) scale(0.987 1)" font-size="21.8" text-anchor="end">12</text>
<text transform="translate(991.30 684.60) scale(0.987 1)" font-size="21.8" text-anchor="end">8</text>
<text transform="translate(1088.30 684.60) scale(0.987 1)" font-size="21.8" text-anchor="end">13</text>
<text transform="translate(1183.30 684.60) scale(0.987 1)" font-size="21.8" text-anchor="end">8.0</text>
<text transform="translate(1280.30 684.60) scale(0.987 1)" font-size="21.8" text-anchor="end">94.0</text>
<text transform="translate(1377.30 684.60) scale(0.987 1)" font-size="21.8" text-anchor="end">39.0</text>
<text transform="translate(1467.30 684.60) scale(0.987 1)" font-size="21.8" text-anchor="end">19</text>
<text class="b" transform="translate(69.50 714.60) scale(1.005 1)" font-size="21.0" text-anchor="middle">4</text>
<text class="b" transform="translate(133.10 714.60) scale(0.9981 1)" font-size="21.0" text-anchor="start">Peter Keller</text>
<text transform="translate(507.30 714.60) scale(0.987 1)" font-size="21.8" text-anchor="end">15</text>
<text transform="translate(608.30 714.60) scale(0.987 1)" font-size="21.8" text-anchor="end">13</text>
<text transform="translate(704.30 714.60) scale(0.987 1)" font-size="21.8" text-anchor="end">15</text>
<text transform="translate(801.30 714.60) scale(0.987 1)" font-size="21.8" text-anchor="end">15</text>
<text transform="translate(899.30 714.60) scale(0.987 1)" font-size="21.8" text-anchor="end">12</text>
<text transform="translate(991.30 714.60) scale(0.987 1)" font-size="21.8" text-anchor="end">8</text>
<text transform="translate(1088.30 714.60) scale(0.987 1)" font-size="21.8" text-anchor="end">13</text>
<text transform="translate(1183.30 714.60) scale(0.987 1)" font-size="21.8" text-anchor="end">7.0</text>
<text transform="translate(1280.30 714.60) scale(0.987 1)" font-size="21.8" text-anchor="end">98.0</text>
<text transform="translate(1377.30 714.60) scale(0.987 1)" font-size="21.8" text-anchor="end">40.0</text>
<text transform="translate(1467.30 714.60) scale(0.987 1)" font-size="21.8" text-anchor="end">20</text>
<text class="b" transform="translate(69.50 744.60) scale(1.005 1)" font-size="21.0" text-anchor="middle">1</text>
<text class="b" transform="translate(133.10 744.60) scale(1.0096 1)" font-size="21.0" text-anchor="start">Gordon Mckenzie</text>
<text transform="translate(507.30 744.60) scale(0.987 1)" font-size="21.8" text-anchor="end">15</text>
<text transform="translate(608.30 744.60) scale(0.987 1)" font-size="21.8" text-anchor="end">11</text>
<text transform="translate(704.30 744.60) scale(0.987 1)" font-size="21.8" text-anchor="end">15</text>
<text transform="translate(801.30 744.60) scale(0.987 1)" font-size="21.8" text-anchor="end">15</text>
<text transform="translate(899.30 744.60) scale(0.987 1)" font-size="21.8" text-anchor="end">11</text>
<text transform="translate(991.30 744.60) scale(0.987 1)" font-size="21.8" text-anchor="end">8</text>
<text transform="translate(1088.30 744.60) scale(0.987 1)" font-size="21.8" text-anchor="end">13</text>
<text transform="translate(1183.30 744.60) scale(0.987 1)" font-size="21.8" text-anchor="end">8.0</text>
<text transform="translate(1280.30 744.60) scale(0.987 1)" font-size="21.8" text-anchor="end">96.0</text>
<text transform="translate(1377.30 744.60) scale(0.987 1)" font-size="21.8" text-anchor="end">40.0</text>
<text transform="translate(1467.30 744.60) scale(0.987 1)" font-size="21.8" text-anchor="end">21</text>
<text class="b" transform="translate(69.50 774.60) scale(1.005 1)" font-size="21.0" text-anchor="middle">67</text>
<text class="b" transform="translate(133.10 774.60) scale(0.9842 1)" font-size="21.0" text-anchor="start">Steve Kibble</text>
<text transform="translate(507.30 774.60) scale(0.987 1)" font-size="21.8" text-anchor="end">15.0</text>
<text transform="translate(608.30 774.60) scale(0.987 1)" font-size="21.8" text-anchor="end">12</text>
<text transform="translate(704.30 774.60) scale(0.987 1)" font-size="21.8" text-anchor="end">15</text>
<text transform="translate(801.30 774.60) scale(0.987 1)" font-size="21.8" text-anchor="end">15</text>
<text transform="translate(899.30 774.60) scale(0.987 1)" font-size="21.8" text-anchor="end">12</text>
<text transform="translate(991.30 774.60) scale(0.987 1)" font-size="21.8" text-anchor="end">8</text>
<text transform="translate(1088.30 774.60) scale(0.987 1)" font-size="21.8" text-anchor="end">12</text>
<text transform="translate(1183.30 774.60) scale(0.987 1)" font-size="21.8" text-anchor="end">8.0</text>
<text transform="translate(1280.30 774.60) scale(0.987 1)" font-size="21.8" text-anchor="end">97.0</text>
<text transform="translate(1377.30 774.60) scale(0.987 1)" font-size="21.8" text-anchor="end">40.0</text>
<text transform="translate(1467.30 774.60) scale(0.987 1)" font-size="21.8" text-anchor="end">22</text>
<text class="b" transform="translate(69.50 804.60) scale(1.005 1)" font-size="21.0" text-anchor="middle">73</text>
<text class="b" transform="translate(133.10 804.60) scale(1.0112 1)" font-size="21.0" text-anchor="start">Graeme Bennett</text>
<text transform="translate(507.30 804.60) scale(0.987 1)" font-size="21.8" text-anchor="end">15</text>
<text transform="translate(608.30 804.60) scale(0.987 1)" font-size="21.8" text-anchor="end">13</text>
<text transform="translate(704.30 804.60) scale(0.987 1)" font-size="21.8" text-anchor="end">12</text>
<text transform="translate(801.30 804.60) scale(0.987 1)" font-size="21.8" text-anchor="end">15</text>
<text transform="translate(899.30 804.60) scale(0.987 1)" font-size="21.8" text-anchor="end">12</text>
<text transform="translate(991.30 804.60) scale(0.987 1)" font-size="21.8" text-anchor="end">8</text>
<text transform="translate(1088.30 804.60) scale(0.987 1)" font-size="21.8" text-anchor="end">13</text>
<text transform="translate(1183.30 804.60) scale(0.987 1)" font-size="21.8" text-anchor="end">8.0</text>
<text transform="translate(1280.30 804.60) scale(0.987 1)" font-size="21.8" text-anchor="end">96.0</text>
<text transform="translate(1377.30 804.60) scale(0.987 1)" font-size="21.8" text-anchor="end">40.0</text>
<text transform="translate(1467.30 804.60) scale(0.987 1)" font-size="21.8" text-anchor="end">23</text>
<text class="b" transform="translate(69.50 833.60) scale(1.005 1)" font-size="21.0" text-anchor="middle">41</text>
<text class="b" transform="translate(133.10 833.60) scale(0.9688 1)" font-size="21.0" text-anchor="start">John Hogbin</text>
<text transform="translate(507.30 833.60) scale(0.987 1)" font-size="21.8" text-anchor="end">15</text>
<text transform="translate(608.30 833.60) scale(0.987 1)" font-size="21.8" text-anchor="end">13</text>
<text transform="translate(704.30 833.60) scale(0.987 1)" font-size="21.8" text-anchor="end">14</text>
<text transform="translate(801.30 833.60) scale(0.987 1)" font-size="21.8" text-anchor="end">14</text>
<text transform="translate(899.30 833.60) scale(0.987 1)" font-size="21.8" text-anchor="end">12</text>
<text transform="translate(991.30 833.60) scale(0.987 1)" font-size="21.8" text-anchor="end">8</text>
<text transform="translate(1088.30 833.60) scale(0.987 1)" font-size="21.8" text-anchor="end">13</text>
<text transform="translate(1183.30 833.60) scale(0.987 1)" font-size="21.8" text-anchor="end">8.0</text>
<text transform="translate(1280.30 833.60) scale(0.987 1)" font-size="21.8" text-anchor="end">97.0</text>
<text transform="translate(1377.30 833.60) scale(0.987 1)" font-size="21.8" text-anchor="end">41.0</text>
<text transform="translate(1467.30 833.60) scale(0.987 1)" font-size="21.8" text-anchor="end">24</text>
<text class="b" transform="translate(69.50 863.60) scale(1.005 1)" font-size="21.0" text-anchor="middle">15</text>
<text class="b" transform="translate(133.10 863.60) scale(0.9861 1)" font-size="21.0" text-anchor="start">Colin Garner</text>
<text transform="translate(507.30 863.60) scale(0.987 1)" font-size="21.8" text-anchor="end">15</text>
<text transform="translate(608.30 863.60) scale(0.987 1)" font-size="21.8" text-anchor="end">13</text>
<text transform="translate(704.30 863.60) scale(0.987 1)" font-size="21.8" text-anchor="end">13</text>
<text transform="translate(801.30 863.60) scale(0.987 1)" font-size="21.8" text-anchor="end">15</text>
<text transform="translate(899.30 863.60) scale(0.987 1)" font-size="21.8" text-anchor="end">12</text>
<text transform="translate(991.30 863.60) scale(0.987 1)" font-size="21.8" text-anchor="end">8</text>
<text transform="translate(1088.30 863.60) scale(0.987 1)" font-size="21.8" text-anchor="end">13</text>
<text transform="translate(1183.30 863.60) scale(0.987 1)" font-size="21.8" text-anchor="end">8.0</text>
<text transform="translate(1280.30 863.60) scale(0.987 1)" font-size="21.8" text-anchor="end">97.0</text>
<text transform="translate(1377.30 863.60) scale(0.987 1)" font-size="21.8" text-anchor="end">41.0</text>
<text transform="translate(1467.30 863.60) scale(0.987 1)" font-size="21.8" text-anchor="end">24</text>
<text class="b" transform="translate(69.50 893.60) scale(1.005 1)" font-size="21.0" text-anchor="middle">64</text>
<text class="b" transform="translate(133.10 893.60) scale(1.0244 1)" font-size="21.0" text-anchor="start">Tom Murphy</text>
<text transform="translate(507.30 893.60) scale(0.987 1)" font-size="21.8" text-anchor="end">13</text>
<text transform="translate(608.30 893.60) scale(0.987 1)" font-size="21.8" text-anchor="end">13</text>
<text transform="translate(704.30 893.60) scale(0.987 1)" font-size="21.8" text-anchor="end">15</text>
<text transform="translate(801.30 893.60) scale(0.987 1)" font-size="21.8" text-anchor="end">15</text>
<text transform="translate(899.30 893.60) scale(0.987 1)" font-size="21.8" text-anchor="end">12</text>
<text transform="translate(991.30 893.60) scale(0.987 1)" font-size="21.8" text-anchor="end">8</text>
<text class="b" transform="translate(1086.70 893.60) scale(0.94 1)" font-size="21.0" text-anchor="end">13</text>
<text transform="translate(1183.30 893.60) scale(0.987 1)" font-size="21.8" text-anchor="end">8.0</text>
<text transform="translate(1280.30 893.60) scale(0.987 1)" font-size="21.8" text-anchor="end">97.0</text>
<text transform="translate(1377.30 893.60) scale(0.987 1)" font-size="21.8" text-anchor="end">41.0</text>
<text transform="translate(1467.30 893.60) scale(0.987 1)" font-size="21.8" text-anchor="end">25</text>
<text transform="translate(17.00 968.70) scale(1.0195 1)" font-size="25.9" text-anchor="start">Your score is your best 3 one day events plus your best multi day event score (CC 3 &amp; 7).</text>
</g>
</svg>
</body>
</html>
